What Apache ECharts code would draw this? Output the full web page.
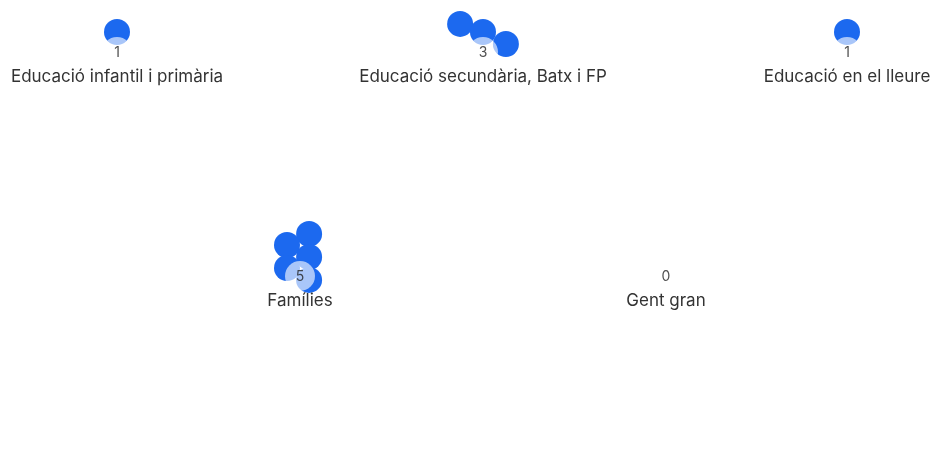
<!DOCTYPE html>
<html>
<head>
<meta charset="utf-8">
<script src="https://cdn.jsdelivr.net/npm/echarts@6/dist/echarts.min.js"></script>
<style>html,body{margin:0;padding:0;background:#fff}#c{width:932px;height:450px}</style>
</head>
<body>
<div id="c"></div>
<script>
// Data
const categories = ['Educació infantil i primària', 'Educació secundària, Batx i FP', 'Educació en el lleure', 'Famílies', 'Gent gran'];
const counts = [1, 3, 1, 5, 0];
// bubble positions within each cluster (in bubble-diameter units, relative to the count marker)
const bubbleX = [[0], [-0.88, 0, 0.88], [0], [0.35, -0.5, 0.35, -0.5, 0.35], []];
const bubbleY = [[0.77], [1.08, 0.77, 0.31], [0.77], [1.62, 1.19, 0.73, 0.31, -0.15], []];

// Layout (pixel centres of each cluster's count marker)
const centers = [[117, 52], [483, 52], [847, 52], [300, 276], [666, 276]];
const unit = 26; // px per axis unit
const half = 2;  // axis extent

const chart = echarts.init(document.getElementById('c'), null, {renderer: 'canvas'});
const grids = [], xAxes = [], yAxes = [], series = [], titles = [];
const FONT = 'Inter, "Noto Sans", sans-serif';
categories.forEach((name, i) => {
  const [cx, cy] = centers[i];
  grids.push({left: cx - half * unit, top: cy - half * unit, width: 2 * half * unit, height: 2 * half * unit, containLabel: false});
  xAxes.push({type: 'value', gridIndex: i, min: -half, max: half, show: false});
  yAxes.push({type: 'value', gridIndex: i, min: -half, max: half, show: false});
  series.push({
    type: 'scatter', xAxisIndex: i, yAxisIndex: i, symbol: 'circle', symbolSize: 26,
    itemStyle: {color: '#1c69ef', opacity: 1},
    data: bubbleX[i].map((x, k) => [x, bubbleY[i][k]]),
    silent: true, z: 2
  });
  series.push({
    type: 'scatter', xAxisIndex: i, yAxisIndex: i, symbol: 'circle', symbolSize: 30,
    itemStyle: {color: 'rgba(255,255,255,0.78)'},
    data: [[0, 0, counts[i]]],
    label: {show: true, position: 'inside', offset: [0, 1], formatter: p => String(p.value[2]), color: '#222', fontSize: 14, fontFamily: FONT},
    silent: true, z: 3
  });
  titles.push({
    text: name, left: cx, top: cy + 16, textAlign: 'center', padding: 0,
    textStyle: {fontSize: 17, fontWeight: 'normal', color: '#333', fontFamily: FONT}
  });
});

chart.setOption({
  animation: false,
  backgroundColor: '#fff',
  title: titles,
  grid: grids,
  xAxis: xAxes,
  yAxis: yAxes,
  series: series
});
</script>
</body>
</html>
